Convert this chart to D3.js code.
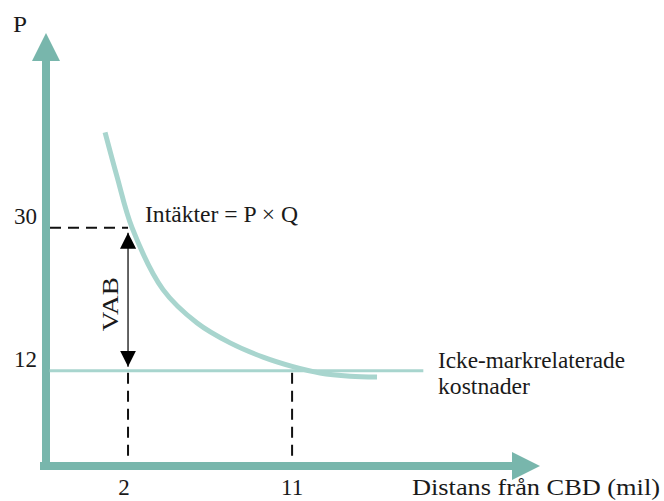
<!DOCTYPE html>
<html>
<head>
<meta charset="utf-8">
<script src="https://cdn.jsdelivr.net/npm/d3@7"></script>
<style>
  html, body { margin: 0; padding: 0; background: #fff; }
  svg { display: block; }
  text { font-family: "Liberation Serif", "Times New Roman", serif; fill: #1a1a1a; }
</style>
</head>
<body>
<svg id="chart" width="664" height="501"></svg>
<script>
// Bid-rent sketch: revenue curve vs. non-land costs over distance from CBD
const xTicks = [2, 11];
const yTicks = [12, 30];
const xTickLabels = ["2", "11"];
const yTickLabels = ["12", "30"];

// Revenue curve (Intäkter = P × Q), distance vs price
const revenueX = [0.74, 1.40, 2.22, 3.92, 5.79, 7.60, 9.41, 11.05, 12.53, 14.18, 15.66];
const revenueY = [42.0, 36.4, 30.0, 22.2, 18.0, 15.5, 13.7, 12.5, 11.7, 11.3, 11.2];

// Non-land costs, flat level
const costX = [-2.3, 18.2];
const costY = [12, 12];

const pointA = { x: 2, top: 30, bottom: 12 };
const pointB = { x: 11, level: 12 };

const svg = d3.select("#chart");

const x = d3.scaleLinear().domain([-2.5, 24.6]).range([46, 540]);
const y = d3.scaleLinear().domain([0, 54.5]).range([466, 33]);

const axisColor = "#78b6ac";
const curveColor = "#a8d5ce";

// ---- axes as thick arrows ----
const ax0 = x(-2.5), ay0 = y(0);
const yTip = y(54.5), xTip = x(24.6);
const headLen = 28, headHalf = 14, bar = 8;

// vertical axis
svg.append("rect")
  .attr("x", ax0 - bar / 2).attr("y", yTip + headLen - 1)
  .attr("width", bar).attr("height", ay0 + bar / 2 - (yTip + headLen - 1))
  .attr("fill", axisColor);
svg.append("path")
  .attr("d", `M${ax0},${yTip} L${ax0 + headHalf},${yTip + headLen} L${ax0 - headHalf},${yTip + headLen} Z`)
  .attr("fill", axisColor);

// horizontal axis
svg.append("rect")
  .attr("x", ax0 - bar / 2 - 2).attr("y", ay0 - bar / 2)
  .attr("width", xTip - headLen + 1 - (ax0 - bar / 2 - 2)).attr("height", bar)
  .attr("fill", axisColor);
svg.append("path")
  .attr("d", `M${xTip},${ay0} L${xTip - headLen},${ay0 - headHalf} L${xTip - headLen},${ay0 + headHalf} Z`)
  .attr("fill", axisColor);

// ---- dashed guides ----
const dash = "11,7";
svg.append("line")
  .attr("x1", ax0 + bar / 2).attr("x2", x(pointA.x))
  .attr("y1", y(pointA.top)).attr("y2", y(pointA.top))
  .attr("stroke", "#111").attr("stroke-width", 2).attr("stroke-dasharray", dash);
[pointA.x, pointB.x].forEach(v => {
  svg.append("line")
    .attr("x1", x(v)).attr("x2", x(v))
    .attr("y1", y(12) + 2).attr("y2", ay0 - bar / 2 - 2)
    .attr("stroke", "#111").attr("stroke-width", 2).attr("stroke-dasharray", dash);
});

// ---- cost line ----
const line = d3.line().x(d => x(d[0])).y(d => y(d[1]));
svg.append("path")
  .datum(d3.zip(costX, costY))
  .attr("d", line)
  .attr("fill", "none").attr("stroke", curveColor).attr("stroke-width", 3);

// ---- revenue curve ----
svg.append("path")
  .datum(d3.zip(revenueX, revenueY))
  .attr("d", line.curve(d3.curveCatmullRom.alpha(0.5)))
  .attr("fill", "none").attr("stroke", curveColor).attr("stroke-width", 5);

// ---- VAB double arrow ----
const defs = svg.append("defs");
defs.append("marker")
  .attr("id", "tri").attr("viewBox", "0 0 10 10")
  .attr("refX", 10).attr("refY", 5)
  .attr("markerWidth", 16).attr("markerHeight", 16)
  .attr("markerUnits", "userSpaceOnUse")
  .attr("orient", "auto-start-reverse")
  .append("path").attr("d", "M0,0 L10,5 L0,10 Z").attr("fill", "#000");
svg.append("line")
  .attr("x1", x(pointA.x)).attr("x2", x(pointA.x))
  .attr("y1", y(pointA.top) + 5).attr("y2", y(pointA.bottom) - 4)
  .attr("stroke", "#111").attr("stroke-width", 1.3)
  .attr("marker-start", "url(#tri)").attr("marker-end", "url(#tri)");

// ---- tick labels ----
const fs = 23;
const xAxis = d3.axisBottom(x).tickValues(xTicks).tickSize(0)
  .tickFormat((d, i) => xTickLabels[i]);
const gx = svg.append("g").attr("transform", `translate(0,${ay0})`).call(xAxis);
gx.select(".domain").remove();
gx.selectAll("text")
  .attr("y", 29).attr("dy", 0)
  .attr("font-size", fs).attr("font-family", "Liberation Serif").attr("fill", "#1a1a1a");
gx.selectAll(".tick").attr("transform", d => `translate(${x(d) - (d === 2 ? 4 : 0)},0)`);

const yAxis = d3.axisLeft(y).tickValues(yTicks).tickSize(0)
  .tickFormat((d, i) => yTickLabels[i]);
const gy = svg.append("g").attr("transform", `translate(${ax0 - 9},0)`).call(yAxis);
gy.select(".domain").remove();
gy.selectAll("text")
  .attr("x", 0).attr("dy", 0)
  .attr("font-size", fs).attr("font-family", "Liberation Serif").attr("fill", "#1a1a1a");
gy.selectAll(".tick").attr("transform", d => `translate(0,${y(d) - 4})`);

// ---- annotations ----
function label(txt, px, py, len, size) {
  const t = svg.append("text").attr("x", px).attr("y", py)
    .attr("font-size", size || fs).text(txt);
  if (len) t.attr("textLength", len).attr("lengthAdjust", "spacingAndGlyphs");
  return t;
}
label("P", 13, 32, 14);
label("Distans från CBD (mil)", 412, 495, 248);
label("Intäkter = P × Q", 145, 222, 153);
label("Icke-markrelaterade", 438, 368, 187);
label("kostnader", 438, 394, 92);

svg.append("text")
  .attr("transform", `translate(118,${(y(pointA.top) + y(pointA.bottom)) / 2 + 5}) rotate(-90)`)
  .attr("text-anchor", "middle")
  .attr("font-size", fs)
  .attr("textLength", 54).attr("lengthAdjust", "spacingAndGlyphs")
  .text("VAB");
</script>
</body>
</html>
